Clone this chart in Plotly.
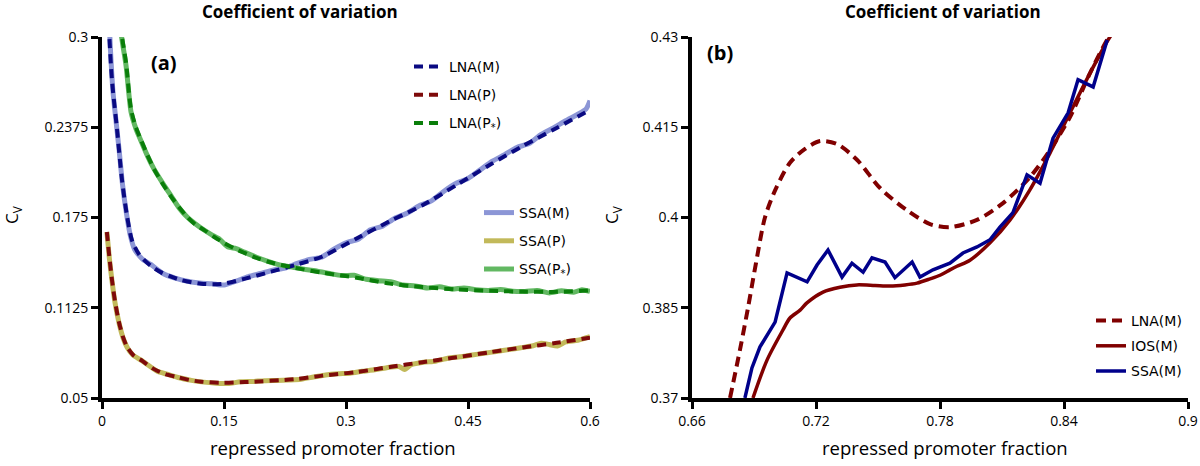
import plotly.graph_objects as go

# ---------------- Panel (a) data ----------------
lna_m_x = [0.006, 0.0086, 0.0123, 0.0185, 0.0246, 0.0308, 0.037, 0.045, 0.0517, 0.06, 0.0727, 0.085,
           0.0973, 0.11, 0.122, 0.137, 0.15, 0.175, 0.208, 0.24, 0.271, 0.313, 0.354, 0.394, 0.436,
           0.477, 0.5175, 0.559, 0.6]
lna_m_y = [0.34, 0.305, 0.270, 0.236, 0.201, 0.176, 0.159, 0.150, 0.1456, 0.1415, 0.137, 0.134,
           0.1317, 0.1302, 0.1292, 0.1288, 0.1292, 0.1325, 0.1375, 0.1425, 0.148, 0.1605, 0.1725,
           0.1835, 0.1975, 0.2115, 0.2245, 0.237, 0.2495]

lna_p_x = [0.006, 0.009, 0.0123, 0.016, 0.0209, 0.026, 0.0308, 0.038, 0.048, 0.064, 0.078, 0.0924,
           0.107, 0.122, 0.1466, 0.175, 0.2366, 0.271, 0.313, 0.354, 0.394, 0.436, 0.477, 0.5175,
           0.559, 0.6]
lna_p_y = [0.165, 0.148, 0.1317, 0.117, 0.1025, 0.092, 0.0855, 0.080, 0.0763, 0.070, 0.0665, 0.0645,
           0.0625, 0.0613, 0.0605, 0.061, 0.063, 0.0655, 0.068, 0.0715, 0.0748, 0.0782, 0.0817,
           0.085, 0.0882, 0.0918]

lna_ps_x = [0.018, 0.0234, 0.0296, 0.0357, 0.042, 0.048, 0.056, 0.064, 0.075, 0.085, 0.095, 0.1047,
            0.115, 0.1257, 0.138, 0.1503, 0.165, 0.175, 0.19, 0.2082, 0.2366, 0.271, 0.313, 0.354,
            0.394, 0.436, 0.477, 0.5175, 0.559, 0.6]
lna_ps_y = [0.34, 0.305, 0.282, 0.250, 0.237, 0.2287, 0.218, 0.2085, 0.198, 0.1895, 0.182, 0.1755,
            0.170, 0.1663, 0.1615, 0.1573, 0.153, 0.1505, 0.147, 0.1438, 0.1402, 0.1368, 0.1333,
            0.1292, 0.1268, 0.1252, 0.1242, 0.1237, 0.1235, 0.1245]

ssa_m_x = [0.008, 0.0105, 0.0135, 0.017, 0.021, 0.025, 0.03, 0.035, 0.04, 0.045, 0.05, 0.06, 0.075,
           0.09, 0.105, 0.12, 0.135, 0.15, 0.165, 0.18, 0.195, 0.21, 0.225, 0.24, 0.255, 0.27, 0.285,
           0.30, 0.315, 0.33, 0.345, 0.36, 0.375, 0.39, 0.405, 0.42, 0.435, 0.45, 0.465, 0.48, 0.495,
           0.51, 0.525, 0.54, 0.555, 0.57, 0.585, 0.595, 0.6]
ssa_m_y = [0.32, 0.29, 0.262, 0.243, 0.222, 0.199, 0.178, 0.162, 0.153, 0.149, 0.146, 0.1425, 0.1362,
           0.1330, 0.1308, 0.1296, 0.1292, 0.1282, 0.1310, 0.1340, 0.1362, 0.1385, 0.1400, 0.1432,
           0.1460, 0.1475, 0.1530, 0.1575, 0.1600, 0.1665, 0.1690, 0.1745, 0.1780, 0.1832, 0.1865,
           0.1930, 0.1985, 0.2020, 0.2080, 0.2140, 0.2185, 0.2235, 0.2262, 0.2325, 0.2370, 0.2420,
           0.2465, 0.2500, 0.2560]

ssa_p_x = [0.006, 0.009, 0.0123, 0.016, 0.0209, 0.026, 0.031, 0.038, 0.048, 0.06, 0.068, 0.08, 0.095,
           0.11, 0.125, 0.14, 0.155, 0.17, 0.185, 0.20, 0.215, 0.23, 0.245, 0.26, 0.275, 0.29, 0.305,
           0.32, 0.335, 0.35, 0.365, 0.372, 0.38, 0.395, 0.41, 0.425, 0.44, 0.455, 0.47, 0.485, 0.50,
           0.515, 0.53, 0.54, 0.55, 0.56, 0.57, 0.585, 0.6]
ssa_p_y = [0.165, 0.147, 0.131, 0.116, 0.102, 0.0915, 0.085, 0.0798, 0.0762, 0.0715, 0.0685, 0.0665,
           0.0640, 0.0622, 0.0610, 0.0603, 0.0600, 0.0612, 0.0615, 0.0620, 0.0622, 0.0625, 0.0630,
           0.0645, 0.0660, 0.0668, 0.0672, 0.0685, 0.0695, 0.0710, 0.0718, 0.0698, 0.0730, 0.0748,
           0.0755, 0.0775, 0.0785, 0.0798, 0.0810, 0.0822, 0.0835, 0.0848, 0.0862, 0.0880, 0.0870,
           0.0860, 0.0888, 0.0900, 0.0925]

ssa_ps_x = [0.02, 0.0234, 0.0296, 0.0357, 0.042, 0.048, 0.056, 0.064, 0.075, 0.085, 0.095, 0.105,
            0.115, 0.125, 0.135, 0.145, 0.155, 0.165, 0.175, 0.19, 0.205, 0.22, 0.235, 0.25, 0.265,
            0.28, 0.295, 0.31, 0.325, 0.34, 0.355, 0.37, 0.385, 0.40, 0.415, 0.43, 0.445, 0.46, 0.475,
            0.49, 0.505, 0.52, 0.535, 0.55, 0.565, 0.58, 0.59, 0.6]
ssa_ps_y = [0.33, 0.303, 0.280, 0.248, 0.236, 0.228, 0.2175, 0.2085, 0.1985, 0.190, 0.1815, 0.1752,
            0.1705, 0.1665, 0.1630, 0.1598, 0.1545, 0.1535, 0.1510, 0.1475, 0.1445, 0.1420, 0.1405,
            0.1390, 0.1378, 0.1362, 0.1348, 0.1350, 0.1322, 0.1312, 0.1305, 0.1282, 0.1276, 0.1262,
            0.1270, 0.1255, 0.1262, 0.1250, 0.1245, 0.1252, 0.1240, 0.1238, 0.1245, 0.1228, 0.1242,
            0.1232, 0.1250, 0.1238]

# ---------------- Panel (b) data ----------------
b_lna_x = [0.6784, 0.6832, 0.6871, 0.691, 0.6953, 0.7002, 0.7074, 0.7147, 0.722, 0.7302, 0.7398,
           0.751, 0.764, 0.7752, 0.7848, 0.7979, 0.8105, 0.8235, 0.8332, 0.8429, 0.8526, 0.8608, 0.8647]
b_lna_y = [0.37, 0.378, 0.385, 0.3925, 0.4, 0.4045, 0.4091, 0.4114, 0.4127, 0.4122, 0.4096,
           0.4049, 0.4012, 0.3989, 0.3984, 0.3996, 0.4024, 0.4067, 0.4112, 0.4167, 0.424, 0.4295, 0.4315]

b_ios_x = [0.6895, 0.6963, 0.704, 0.7074, 0.7123, 0.7156, 0.7234, 0.7316, 0.7398, 0.7485, 0.7558,
           0.763, 0.7689, 0.7752, 0.78, 0.7848, 0.7882, 0.7945, 0.8042, 0.8139, 0.8235, 0.8332,
           0.8429, 0.8526, 0.8613, 0.8647]
b_ios_y = [0.37, 0.3763, 0.3813, 0.3833, 0.3846, 0.3858, 0.3876, 0.3884, 0.3888, 0.3887, 0.3886,
           0.3888, 0.3891, 0.3898, 0.3904, 0.3913, 0.3919, 0.3929, 0.3958, 0.3996, 0.4046, 0.4107,
           0.4174, 0.424, 0.4295, 0.4312]

b_ssa_x = [0.6856, 0.689, 0.6929, 0.7002, 0.706, 0.7157, 0.7205, 0.7258, 0.7326, 0.7374, 0.7428,
           0.7471, 0.7534, 0.7582, 0.7665, 0.7703, 0.7766, 0.7848, 0.7911, 0.7979, 0.8042, 0.809,
           0.8153, 0.8221, 0.8284, 0.8347, 0.842, 0.8468, 0.8541, 0.8609]
b_ssa_y = [0.37, 0.375, 0.3785, 0.3826, 0.3908, 0.3893, 0.3921, 0.3946, 0.3901, 0.3924, 0.3909,
           0.3933, 0.3926, 0.39, 0.3926, 0.3901, 0.3913, 0.3924, 0.3941, 0.3951, 0.3963, 0.3984,
           0.4008, 0.4071, 0.4057, 0.4132, 0.4174, 0.4229, 0.4217, 0.4295]

a_xticks = [0, 0.15, 0.3, 0.45, 0.6]
a_xlabels = ["0", "0.15", "0.3", "0.45", "0.6"]
a_yticks = [0.05, 0.1125, 0.175, 0.2375, 0.3]
a_ylabels = ["0.05", "0.1125", "0.175", "0.2375", "0.3"]
b_xticks = [0.66, 0.72, 0.78, 0.84, 0.9]
b_xlabels = ["0.66", "0.72", "0.78", "0.84", "0.9"]
b_yticks = [0.37, 0.385, 0.4, 0.415, 0.43]
b_ylabels = ["0.37", "0.385", "0.4", "0.415", "0.43"]

TICKFONT = "Open Sans"
LEGFONT = "DejaVu Sans"

# the page's body margin is removed (post_script below), so figure pixels = window pixels
W, H, OFF = 1200, 466, 0


def fx(px):
    return (px - OFF) / W


def fy(py):
    return 1 - (py - OFF) / H


fig = go.Figure()

# panel (a): SSA under LNA
ssa_specs = [(ssa_m_x, ssa_m_y, "SSA(M)", "#8c96d6"),
             (ssa_p_x, ssa_p_y, "SSA(P)", "#c2b95a"),
             (ssa_ps_x, ssa_ps_y, "SSA(P<sub>*</sub>)", "#62b862")]
for i, (xs, ys, name, col) in enumerate(ssa_specs):
    fig.add_trace(go.Scatter(x=xs, y=ys, name=name, mode="lines",
                             line=dict(color=col, width=5, shape="spline", smoothing=0.6),
                             xaxis="x", yaxis="y", legend="legend2", legendgroup="s%d" % i))

lna_specs = [(lna_m_x, lna_m_y, "LNA(M)", "#0a0a82"),
             (lna_p_x, lna_p_y, "LNA(P)", "#7e0a0a"),
             (lna_ps_x, lna_ps_y, "LNA(P<sub>*</sub>)", "#0a7e0a")]
for i, (xs, ys, name, col) in enumerate(lna_specs):
    fig.add_trace(go.Scatter(x=xs, y=ys, name=name, mode="lines",
                             line=dict(color=col, width=4, dash="9px,6px", shape="spline", smoothing=0.8),
                             xaxis="x", yaxis="y", legend="legend", legendgroup="l%d" % i))

# panel (b)
fig.add_trace(go.Scatter(x=b_lna_x, y=b_lna_y, name="LNA(M)", mode="lines",
                         line=dict(color="#800000", width=4, dash="10px,6px", shape="spline", smoothing=0.8),
                         xaxis="x2", yaxis="y2", legend="legend3", legendgroup="b0"))
fig.add_trace(go.Scatter(x=b_ios_x, y=b_ios_y, name="IOS(M)", mode="lines",
                         line=dict(color="#800000", width=3.5, shape="spline", smoothing=0.8),
                         xaxis="x2", yaxis="y2", legend="legend3", legendgroup="b1"))
fig.add_trace(go.Scatter(x=b_ssa_x, y=b_ssa_y, name="SSA(M)", mode="lines",
                         line=dict(color="#00008b", width=3.5),
                         xaxis="x2", yaxis="y2", legend="legend3", legendgroup="b2"))

ax_common = dict(showgrid=False, zeroline=False, showline=True, linecolor="black", linewidth=4,
                 ticks="outside", ticklen=7, tickwidth=3, tickcolor="black",
                 tickfont=dict(family=TICKFONT, size=14, color="black"))

leg_common = dict(xanchor="left", yanchor="top", bgcolor="rgba(0,0,0,0)", borderwidth=0,
                  font=dict(family=LEGFONT, size=14, color="black"), traceorder="grouped")

fig.update_layout(
    width=W, height=H,
    margin=dict(l=0, r=0, t=0, b=0, autoexpand=False),
    paper_bgcolor="white", plot_bgcolor="white",
    xaxis=dict(domain=[fx(102), fx(590)], range=[0, 0.6], tickvals=a_xticks, ticktext=a_xlabels,
               anchor="y", **ax_common),
    yaxis=dict(domain=[fy(398), fy(37)], range=[0.05, 0.3], tickvals=a_yticks, ticktext=a_ylabels,
               anchor="x", **ax_common),
    xaxis2=dict(domain=[fx(692), fx(1188)], range=[0.66, 0.9], tickvals=b_xticks, ticktext=b_xlabels,
                anchor="y2", **ax_common),
    yaxis2=dict(domain=[fy(398), fy(37)], range=[0.37, 0.43], tickvals=b_yticks, ticktext=b_ylabels,
                anchor="x2", **ax_common),
    legend=dict(x=fx(409), y=fy(51), tracegroupgap=7, **leg_common),
    legend2=dict(x=fx(479), y=fy(197), tracegroupgap=7, **leg_common),
    legend3=dict(x=fx(1091), y=fy(305), tracegroupgap=4, **leg_common),
    showlegend=True,
)

ann = []
for cx in (300, 943):
    ann.append(dict(x=fx(cx), y=fy(12), xref="paper", yref="paper", text="<b>Coefficient of variation</b>",
                    showarrow=False, font=dict(family=TICKFONT, size=17, color="black"),
                    xanchor="center", yanchor="middle"))
for cx in (333, 945):
    ann.append(dict(x=fx(cx), y=fy(447), xref="paper", yref="paper", text="repressed promoter fraction",
                    showarrow=False, font=dict(family=TICKFONT, size=18.5, color="black"),
                    xanchor="center", yanchor="middle"))
for cx in (12, 612):
    ann.append(dict(x=fx(cx), y=fy(215), xref="paper", yref="paper", text="C<sub>V</sub>",
                    showarrow=False, textangle=-90, font=dict(family=TICKFONT, size=17, color="black"),
                    xanchor="center", yanchor="middle"))
ann.append(dict(x=fx(164), y=fy(62), xref="paper", yref="paper", text="<b>(a)</b>", showarrow=False,
                font=dict(family=TICKFONT, size=20, color="black"), xanchor="center", yanchor="middle"))
ann.append(dict(x=fx(720), y=fy(52), xref="paper", yref="paper", text="<b>(b)</b>", showarrow=False,
                font=dict(family=TICKFONT, size=20, color="black"), xanchor="center", yanchor="middle"))
fig.update_layout(annotations=ann)

fig.write_html("out.html", config={"displayModeBar": False},
               post_script="document.body.style.margin='0px'; document.body.style.overflow='hidden';")
